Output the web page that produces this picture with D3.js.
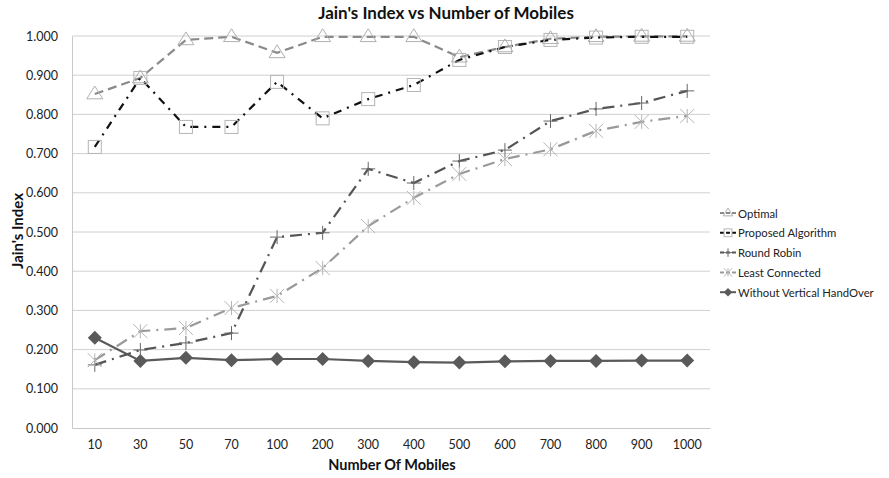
<!DOCTYPE html>
<html>
<head>
<meta charset="utf-8">
<script src="https://cdn.jsdelivr.net/npm/d3@7"></script>
<style>
  body { margin: 0; background: #fff; }
  text { font-family: Lato, "Open Sans", sans-serif; }
</style>
</head>
<body>
<svg id="chart" width="889" height="478"></svg>
<script>
// categories and values
var mobiles = ["10", "30", "50", "70", "100", "200", "300", "400", "500", "600", "700", "800", "900", "1000"];
var optimal = [0.852, 0.893, 0.990, 0.998, 0.957, 0.998, 0.998, 0.998, 0.946, 0.972, 0.993, 0.998, 0.999, 0.999];
var proposed = [0.717, 0.893, 0.768, 0.768, 0.883, 0.790, 0.839, 0.875, 0.939, 0.972, 0.990, 0.996, 0.998, 0.998];
var roundRobin = [0.161, 0.199, 0.217, 0.242, 0.487, 0.498, 0.661, 0.625, 0.681, 0.709, 0.783, 0.814, 0.829, 0.860];
var leastConnected = [0.173, 0.247, 0.255, 0.306, 0.337, 0.408, 0.515, 0.587, 0.648, 0.686, 0.711, 0.758, 0.781, 0.796];
var withoutVHO = [0.230, 0.171, 0.179, 0.173, 0.176, 0.176, 0.171, 0.168, 0.167, 0.170, 0.171, 0.171, 0.172, 0.172];
var yTicks = [0, 0.1, 0.2, 0.3, 0.4, 0.5, 0.6, 0.7, 0.8, 0.9, 1.0];

var series = [
    {name: "Optimal", values: optimal, color: "#8a8a8a", width: 2.2, dash: "9,5", marker: "triangle"},
    {name: "Proposed Algorithm", values: proposed, color: "#111", width: 2.2, dash: "8,6,2,6", marker: "square"},
    {name: "Round Robin", values: roundRobin, color: "#555", width: 2.2, dash: "12,6,2,6", marker: "plus"},
    {name: "Least Connected", values: leastConnected, color: "#9a9a9a", width: 2.2, dash: "12,6,2,6", marker: "star"},
    {name: "Without Vertical HandOver", values: withoutVHO, color: "#5a5a5a", width: 2.2, dash: null, marker: "diamond"}
];

var plotLeft = 72, plotRight = 710, plotTop = 36, plotBottom = 428;
var svg = d3.select("#chart");

var x = d3.scaleBand().domain(mobiles).range([plotLeft, plotRight]);
var y = d3.scaleLinear().domain([0, 1]).range([plotBottom, plotTop]);
function cx(i) { return x(mobiles[i]) + x.bandwidth() / 2; }

// gridlines
svg.append("g").selectAll("line").data(yTicks.slice(1)).enter().append("line")
    .attr("x1", plotLeft).attr("x2", plotRight)
    .attr("y1", function(d) { return y(d); }).attr("y2", function(d) { return y(d); })
    .attr("stroke", "#d0d0d0").attr("stroke-width", 1);

// axes
var yAxis = d3.axisLeft(y).tickValues(yTicks).tickFormat(d3.format(".3f")).tickSize(0).tickPadding(14);
var gy = svg.append("g").attr("transform", "translate(" + plotLeft + ",0)").call(yAxis);
gy.select(".domain").attr("stroke", "#c8c8c8");
gy.selectAll("text").style("font-size", "12.5px").attr("fill", "#222");

var xAxis = d3.axisBottom(x).tickSize(0).tickPadding(12);
var gx = svg.append("g").attr("transform", "translate(0," + plotBottom + ")").call(xAxis);
gx.select(".domain").attr("stroke", "#c8c8c8");
gx.selectAll("text").style("font-size", "12.5px").attr("fill", "#222");

// lines
var line = d3.line().x(function(d, i) { return cx(i); }).y(function(d) { return y(d); });
series.forEach(function(s) {
    svg.append("path").datum(s.values)
        .attr("d", line)
        .attr("fill", "none")
        .attr("stroke", s.color)
        .attr("stroke-width", s.width)
        .attr("stroke-dasharray", s.dash);
});

function drawMarker(g, type, px, py, scale) {
    var k = scale || 1;
    if (type === "triangle") {
        var r = 8 * k;
        g.append("path").attr("d", "M" + px + "," + (py - r) + "L" + (px + r) + "," + (py + r * 0.6) + "L" + (px - r) + "," + (py + r * 0.6) + "Z")
            .attr("fill", "none").attr("stroke", "#b0b0b0").attr("stroke-width", 1);
    } else if (type === "square") {
        var h = 6.5 * k;
        g.append("rect").attr("x", px - h).attr("y", py - h).attr("width", 2 * h).attr("height", 2 * h)
            .attr("fill", "none").attr("stroke", "#b5b5b5").attr("stroke-width", 1);
    } else if (type === "plus") {
        var p = 7 * k;
        g.append("path").attr("d", "M" + (px - p) + "," + py + "H" + (px + p) + "M" + px + "," + (py - p) + "V" + (py + p))
            .attr("stroke", "#666").attr("stroke-width", 1);
    } else if (type === "star") {
        var a = 7 * k;
        g.append("path").attr("d", "M" + (px - a) + "," + (py - a) + "L" + (px + a) + "," + (py + a) +
            "M" + (px - a) + "," + (py + a) + "L" + (px + a) + "," + (py - a) + "M" + px + "," + (py - a) + "V" + (py + a))
            .attr("stroke", "#b5b5b5").attr("stroke-width", 1);
    } else if (type === "diamond") {
        var d = 7 * k;
        g.append("path").attr("d", "M" + px + "," + (py - d) + "L" + (px + d) + "," + py + "L" + px + "," + (py + d) + "L" + (px - d) + "," + py + "Z")
            .attr("fill", "#5a5a5a");
    }
}

var markers = svg.append("g");
series.forEach(function(s) {
    s.values.forEach(function(v, i) {
        drawMarker(markers, s.marker, cx(i), y(v), 1);
    });
});

// title and axis titles
svg.append("text").attr("x", 446).attr("y", 19).attr("text-anchor", "middle")
    .style("font-size", "17px").style("font-weight", "bold").attr("fill", "#111")
    .text("Jain's Index vs Number of Mobiles");
svg.append("text").attr("x", 392).attr("y", 470).attr("text-anchor", "middle")
    .style("font-size", "14.5px").style("font-weight", "bold").attr("fill", "#111")
    .text("Number Of Mobiles");
svg.append("text").attr("transform", "translate(23,231) rotate(-90)").attr("text-anchor", "middle")
    .style("font-size", "15px").style("font-weight", "bold").attr("fill", "#111")
    .text("Jain's Index");

// legend
var legend = svg.append("g");
series.forEach(function(s, i) {
    var ly = 213 + i * 19.8;
    legend.append("line").attr("x1", 720).attr("x2", 736).attr("y1", ly).attr("y2", ly)
        .attr("stroke", s.color).attr("stroke-width", 2).attr("stroke-dasharray", s.dash ? "4,2" : null);
    drawMarker(legend, s.marker, 728, ly, 0.6);
    legend.append("text").attr("x", 738).attr("y", ly + 4.5)
        .style("font-size", "11.3px").attr("fill", "#222").text(s.name);
});
</script>
</body>
</html>
